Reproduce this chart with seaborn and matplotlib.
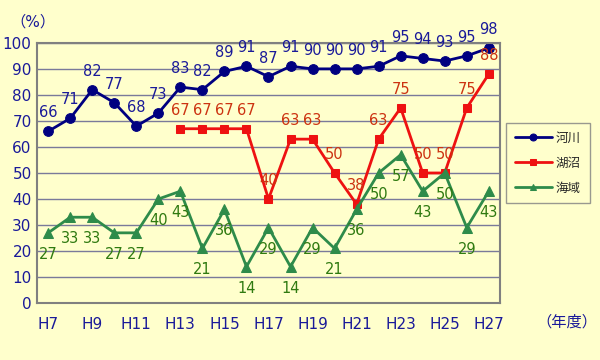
import numpy as np
import pandas as pd
import matplotlib
matplotlib.use('Agg')
import matplotlib.pyplot as plt
import seaborn as sns

# data
years = ['H7', 'H8', 'H9', 'H10', 'H11', 'H12', 'H13', 'H14', 'H15', 'H16', 'H17',
         'H18', 'H19', 'H20', 'H21', 'H22', 'H23', 'H24', 'H25', 'H26', 'H27']
river = [66, 71, 82, 77, 68, 73, 83, 82, 89, 91, 87, 91, 90, 90, 90, 91, 95, 94, 93, 95, 98]
lake = [np.nan] * 6 + [67, 67, 67, 67, 40, 63, 63, 50, 38, 63, 75, 50, 50, 75, 88]
sea = [27, 33, 33, 27, 27, 40, 43, 21, 36, 14, 29, 14, 29, 21, 36, 50, 57, 43, 50, 29, 43]

df = pd.DataFrame({'idx': range(len(years)), 'year': years,
                   '河川': river, '湖沼': lake, '海域': sea})

sns.set_style('white')
plt.rcParams['font.family'] = ['DejaVu Sans', 'Noto Sans CJK JP']

bg = '#FFFFCC'
fig = plt.figure(figsize=(6, 3.6), dpi=100, facecolor=bg)
ax = fig.add_axes([0.062, 0.158, 0.771, 0.723], facecolor=bg)

styles = [
    ('河川', '#000080', 'o', 7, '#1a1a99', 8),
    ('湖沼', '#EE1111', 's', 6, '#CC3311', 8),
    ('海域', '#2E8B4A', '^', 7, '#2F7A10', -10),
]
for name, col, mk, ms, lcol, off in styles:
    d = df.dropna(subset=[name])
    sns.lineplot(data=d, x='idx', y=name, ax=ax, color=col, marker=mk, markersize=ms,
                 markeredgecolor=col, linewidth=2, label=name)
    for x, y in zip(d['idx'], d[name]):
        ax.annotate(f'{int(y)}', (x, y), xytext=(0, off), textcoords='offset points',
                    ha='center', va='bottom' if off > 0 else 'top', fontsize=10.5, color=lcol)

ax.set_xlim(-0.5, len(years) - 0.5)
ax.set_ylim(0, 100)
ax.set_yticks(range(0, 101, 10))
ax.set_xticks(range(0, len(years), 2))
ax.set_xticklabels(years[::2])
ax.set_xticks(np.arange(-0.5, len(years), 1), minor=True)
ax.tick_params(axis='x', which='major', length=0, pad=10, labelsize=11, labelcolor='#1a1a99')
ax.tick_params(axis='x', which='minor', direction='in', length=4, color='#808080')
ax.tick_params(axis='y', length=0, pad=4, labelsize=11, labelcolor='#1a1a99')
ax.yaxis.grid(True, color='#7a7a9a', linewidth=1)
ax.set_axisbelow(True)
for s in ax.spines.values():
    s.set_color('#808080')
    s.set_linewidth(1.5)
ax.set_xlabel('')
ax.set_ylabel('')

fig.text(0.055, 0.94, '（%）', fontsize=11, color='#1a1a99', ha='center', va='center')
fig.text(0.945, 0.105, '（年度）', fontsize=11, color='#1a1a99', ha='center', va='center')

leg = ax.legend(loc='upper left', bbox_to_anchor=(0.843, 0.658), bbox_transform=fig.transFigure,
                frameon=True, fontsize=9, facecolor=bg, edgecolor='#808080', borderpad=0.7,
                labelspacing=0.95, handlelength=3.0, handletextpad=0.3, borderaxespad=0,
                fancybox=False)
leg.get_frame().set_linewidth(1)
for h in leg.legend_handles:
    h.set_markersize(5)

fig.savefig('out.png', dpi=100, facecolor=bg)
